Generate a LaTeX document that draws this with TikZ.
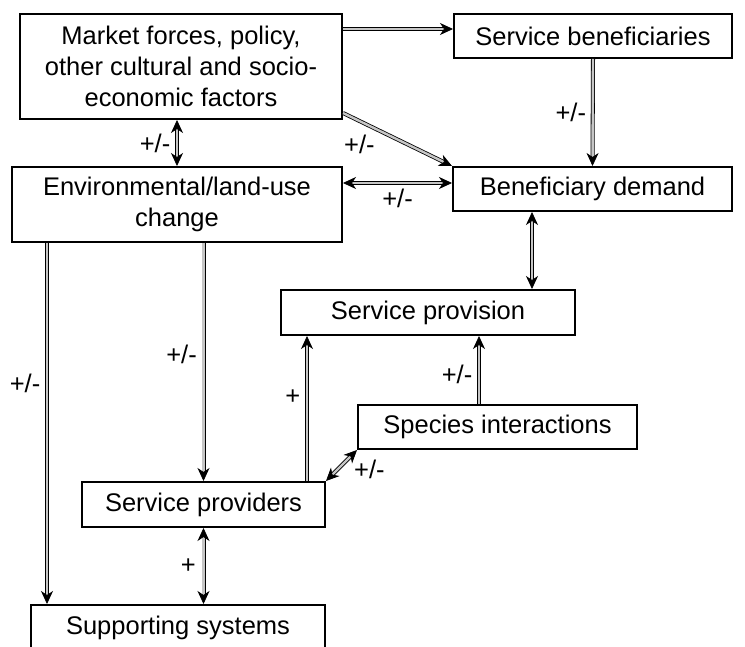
\documentclass[tikz,border=0pt]{standalone}
\usepackage{fontspec}
\setmainfont{Liberation Sans}
\usetikzlibrary{arrows.meta,positioning}
\tikzset{font=\fontsize{25.5}{31}\selectfont}
\tikzset{box/.style={draw, line width=2pt, align=center, inner sep=0pt}}
\tikzset{link/.style={line width=0.8pt, double=gray!45, double distance=2.4pt,
    >={Stealth[length=13pt,width=12pt,inset=4pt]}}}

\begin{document}
\begin{tikzpicture}[x=1pt, y=-1pt]
  \useasboundingbox (0,0) rectangle (745,647);

  \node[box, minimum width=322pt, minimum height=105pt] (market) at (181,66.5)
       {Market forces, policy,\\other cultural and socio-\\economic factors};
  \node[box, minimum width=278pt, minimum height=44pt] (servben) at (593,36) {Service beneficiaries};
  \node[box, minimum width=330pt, minimum height=75pt] (env) at (177,204.5)
       {Environmental/land-use\\change};
  \node[box, minimum width=279pt, minimum height=44pt] (bendem) at (592.5,189) {Beneficiary demand};
  \node[box, minimum width=294pt, minimum height=45pt] (servprov) at (428,312.5) {Service provision};
  \node[box, minimum width=279pt, minimum height=44pt] (species) at (497.5,427) {Species interactions};
  \node[box, minimum width=243pt, minimum height=45pt] (provid) at (203.5,504.5) {Service providers};
  \node[box, minimum width=294pt, minimum height=46pt] (support) at (178,628) {Supporting systems};

  \coordinate (envL) at ([xshift=36pt]env.south west);
  \coordinate (bendemL) at ([xshift=80pt]bendem.south west);
  \coordinate (speciesT) at ([xshift=122pt]species.north west);
  \coordinate (providT) at ([xshift=-19pt]provid.north east);

  \draw[link,->] ([yshift=-16pt]market.north east) -- ([yshift=-16pt]market.north east -| servben.west);
  \draw[link,->] (servben.south) -- (bendem.north) node[pos=.5, left=3pt] {+/-};
  \draw[link,->] ([yshift=7pt]market.south east) -- (bendem.north west)
       node[pos=.15, below=10pt] {+/-};
  \draw[link,<->] (env.north) -- (env.north |- market.south) node[midway, left=3pt] {+/-};
  \draw[link,<->] ([yshift=6pt]bendem.west -| env.east) -- ([yshift=6pt]bendem.west)
       node[midway, below=2pt] {+/-};

  \draw[link,->] (envL) -- (envL |- support.north) node[pos=.39, left=3pt] {+/-};
  \draw[link,->] (env.south -| provid) -- (provid.north) node[pos=.47, left=3pt] {+/-};
  \draw[link,<->] (bendemL) -- (bendemL |- servprov.north);
  \draw[link,->] (speciesT) -- (speciesT |- servprov.south) node[pos=.43, left=3pt] {+/-};
  \draw[link,->] (providT) -- (providT |- servprov.south) node[pos=.58, left=3pt] {+};
  \draw[link,<->] (provid.north east) -- (species.south west)
       node[midway, right=9pt, yshift=-4pt] {+/-};
  \draw[link,<->] (provid.south) -- (provid.south |- support.north) node[midway, left=4pt] {+};
\end{tikzpicture}
\end{document}
